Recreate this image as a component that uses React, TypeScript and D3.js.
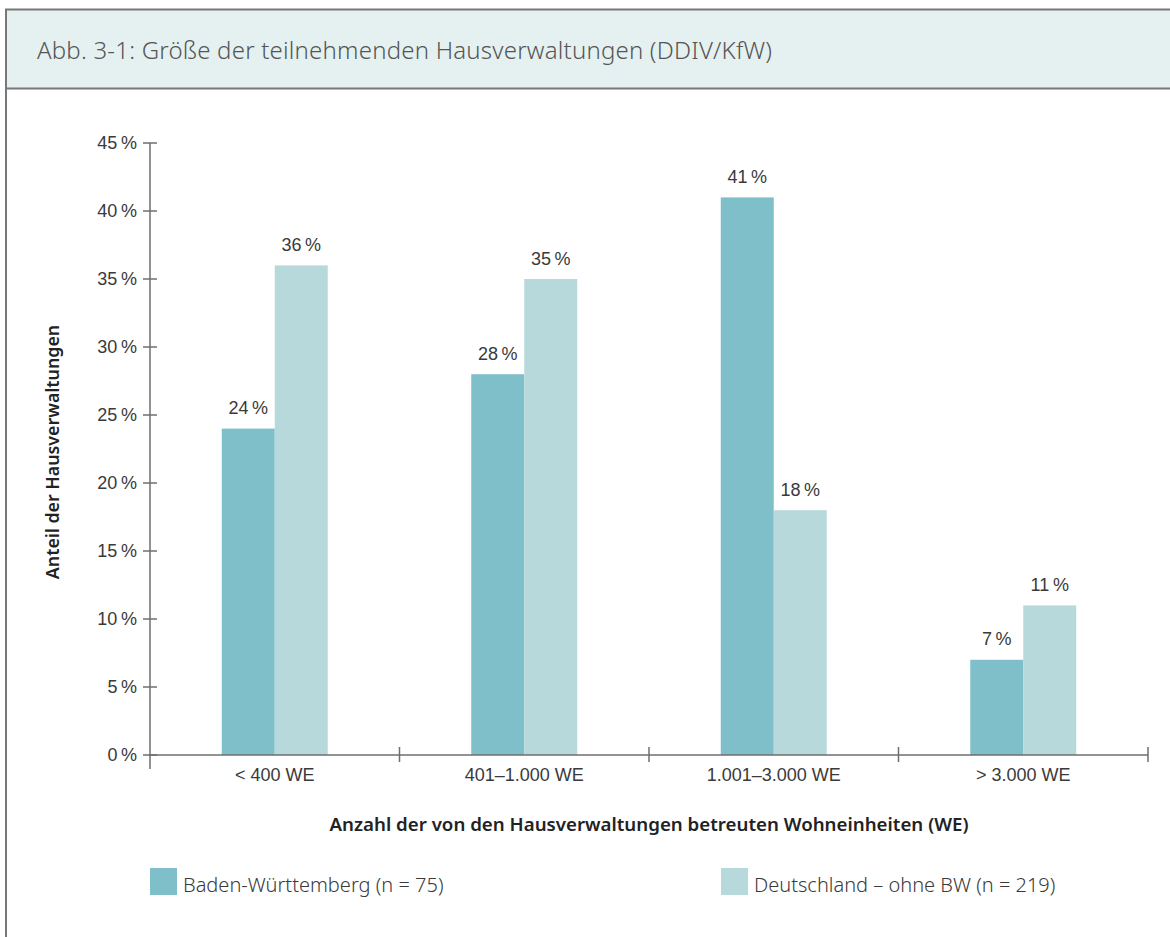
import React from "react";
import * as d3 from "d3";

const categories = ["< 400 WE", "401–1.000 WE", "1.001–3.000 WE", "> 3.000 WE"];
const seriesNames = ["Baden-Württemberg (n = 75)", "Deutschland – ohne BW (n = 219)"];
const bwValues = [24, 28, 41, 7];
const deValues = [36, 35, 18, 11];
const yTicks = [0, 5, 10, 15, 20, 25, 30, 35, 40, 45];
const colors = ["#7fbfca", "#b8d9db"];

const W = 1170;
const H = 937;
const TEXT = "#3a3a3a";
const AXIS = "#6e6e6e";
const LABEL_FONT = "'Liberation Sans', Arial, sans-serif";
const TITLE_FONT = "'Noto Sans', 'Open Sans', sans-serif";

export default function App() {
  const y = d3.scaleLinear().domain([0, 45]).range([755, 143]);
  const x0 = d3.scaleBand<string>().domain(categories).range([150, 1148]).padding(0);
  const x1 = d3
    .scaleBand<number>()
    .domain([0, 1])
    .range([0, x0.bandwidth()])
    .paddingInner(0)
    .paddingOuter(1.354);
  const series = [bwValues, deValues];
  const pct = (v: number) => `${v}\u2009%`;

  return (
    <div style={{ position: "absolute", left: 0, top: 0, width: W, height: H, background: "#fff" }}>
      <svg width={W} height={H} style={{ display: "block" }}>
        {/* header */}
        <rect x={5} y={9} width={W - 5} height={79} fill="#e5f1f1" />
        <line x1={5} x2={W} y1={9.5} y2={9.5} stroke="#777" strokeWidth={2} />
        <line x1={5} x2={W} y1={88.5} y2={88.5} stroke="#777" strokeWidth={2} />
        <line x1={6} x2={6} y1={9} y2={H} stroke="#777" strokeWidth={2} />
        <text
          x={37}
          y={59}
          fontFamily={TITLE_FONT}
          fontWeight={300}
          fontSize={24}
          letterSpacing={0.2}
          fill="#555"
        >
          Abb. 3-1: Größe der teilnehmenden Hausverwaltungen (DDIV/KfW)
        </text>

        {/* bars */}
        {categories.map((c, i) => (
          <g key={c} transform={`translate(${x0(c)},0)`}>
            {series.map((s, j) => (
              <g key={j}>
                <rect
                  x={x1(j)}
                  y={y(s[i])}
                  width={x1.bandwidth()}
                  height={y(0) - y(s[i])}
                  fill={colors[j]}
                />
                <text
                  x={(x1(j) as number) + x1.bandwidth() / 2}
                  y={y(s[i]) - 14.5}
                  textAnchor="middle"
                  fontFamily={LABEL_FONT}
                  fontSize={18}
                  fill={TEXT}
                >
                  {pct(s[i])}
                </text>
              </g>
            ))}
          </g>
        ))}

        {/* y axis */}
        <line x1={150} x2={150} y1={y(45)} y2={769} stroke={AXIS} strokeWidth={1.5} />
        {yTicks.map((t) => (
          <g key={t}>
            <line x1={143} x2={157} y1={y(t)} y2={y(t)} stroke={AXIS} strokeWidth={1.5} />
            <text
              x={137}
              y={y(t)}
              dy="0.35em"
              textAnchor="end"
              fontFamily={LABEL_FONT}
              fontSize={18}
              fill={TEXT}
            >
              {pct(t)}
            </text>
          </g>
        ))}

        {/* x axis */}
        <line x1={150} x2={1148} y1={y(0)} y2={y(0)} stroke={AXIS} strokeWidth={1.5} />
        {categories.map((c) => (
          <g key={c}>
            <line
              x1={(x0(c) as number) + x0.bandwidth()}
              x2={(x0(c) as number) + x0.bandwidth()}
              y1={747}
              y2={762}
              stroke={AXIS}
              strokeWidth={1.5}
            />
            <text
              x={(x0(c) as number) + x0.bandwidth() / 2}
              y={781}
              textAnchor="middle"
              fontFamily={LABEL_FONT}
              fontSize={18}
              fill={TEXT}
            >
              {c}
            </text>
          </g>
        ))}

        {/* axis titles */}
        <text
          x={649}
          y={831}
          textAnchor="middle"
          fontFamily={TITLE_FONT}
          fontWeight={600}
          fontSize={18.7}
          fill="#222"
        >
          Anzahl der von den Hausverwaltungen betreuten Wohneinheiten (WE)
        </text>
        <text
          transform="translate(59,452) rotate(-90)"
          textAnchor="middle"
          fontFamily={TITLE_FONT}
          fontWeight={600}
          fontSize={17.8}
          fill="#222"
        >
          Anteil der Hausverwaltungen
        </text>

        {/* legend */}
        {seriesNames.map((n, j) => {
          const lx = j === 0 ? 150 : 721;
          return (
            <g key={n}>
              <rect x={lx} y={868} width={27} height={27} fill={colors[j]} />
              <text x={lx + 33} y={892} fontFamily={TITLE_FONT} fontWeight={300} fontSize={20} fill={TEXT}>
                {n}
              </text>
            </g>
          );
        })}
      </svg>
    </div>
  );
}
